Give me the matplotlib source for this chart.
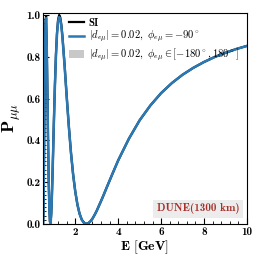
import matplotlib
matplotlib.use('Agg')
import matplotlib.pyplot as plt
import matplotlib.ticker as mticker
import numpy as np

plt.rcParams['font.family'] = 'serif'
plt.rcParams['font.serif'] = ['cmb10', 'DejaVu Serif']
plt.rcParams['mathtext.fontset'] = 'cm'
plt.rcParams['axes.unicode_minus'] = False

# energies [GeV] and survival probabilities
energy = [0.50, 0.52, 0.55, 0.58, 0.61, 0.64, 0.67, 0.70, 0.73, 0.76,
          0.79, 0.82, 0.85, 0.88, 0.91, 0.94, 0.97, 1.00, 1.05, 1.10,
          1.15, 1.20, 1.25, 1.30, 1.35, 1.40, 1.50, 1.60, 1.70, 1.80,
          1.90, 2.00, 2.10, 2.20, 2.30, 2.40, 2.50, 2.60, 2.70, 2.80,
          2.90, 3.00, 3.25, 3.50, 3.75, 4.00, 4.50, 5.00, 5.50, 6.00,
          6.50, 7.00, 7.50, 8.00, 8.50, 9.00, 9.50, 10.0]
p_si = [0.002, 0.065, 0.387, 0.747, 0.963, 0.995, 0.857, 0.643, 0.413, 0.217,
        0.081, 0.011, 0.004, 0.049, 0.132, 0.238, 0.357, 0.477, 0.661, 0.811,
        0.916, 0.978, 1.000, 0.989, 0.954, 0.901, 0.764, 0.612, 0.468, 0.341,
        0.237, 0.155, 0.093, 0.049, 0.021, 0.006, 0.001, 0.003, 0.012, 0.025,
        0.043, 0.063, 0.121, 0.183, 0.244, 0.304, 0.408, 0.496, 0.567, 0.626,
        0.674, 0.714, 0.747, 0.775, 0.799, 0.819, 0.837, 0.852]
p_nsi = [0.002, 0.064, 0.384, 0.740, 0.955, 0.985, 0.850, 0.638, 0.410, 0.216,
         0.081, 0.011, 0.004, 0.049, 0.131, 0.236, 0.354, 0.474, 0.657, 0.806,
         0.910, 0.970, 0.990, 0.981, 0.947, 0.896, 0.760, 0.609, 0.466, 0.340,
         0.236, 0.155, 0.093, 0.049, 0.021, 0.006, 0.001, 0.003, 0.012, 0.025,
         0.043, 0.063, 0.121, 0.183, 0.244, 0.304, 0.408, 0.496, 0.567, 0.626,
         0.674, 0.714, 0.747, 0.775, 0.799, 0.819, 0.837, 0.852]
band_width = [0.03, 0.03, 0.03, 0.03, 0.03, 0.02, 0.02, 0.02, 0.02, 0.01,
              0.01, 0.01, 0.01, 0.01, 0.01, 0.01, 0.01, 0.01, 0.005, 0.005,
              0.005, 0.005, 0.005, 0.005, 0.005, 0.005, 0.0, 0.0, 0.0, 0.0,
              0.0, 0.0, 0.0, 0.0, 0.0, 0.0, 0.0, 0.0, 0.0, 0.0,
              0.0, 0.0, 0.0, 0.0, 0.0, 0.0, 0.0, 0.0, 0.0, 0.0,
              0.0, 0.0, 0.0, 0.0, 0.0, 0.0, 0.0, 0.0]

E = np.array(energy)
nsi = np.array(p_nsi)
w = np.array(band_width)

fig = plt.figure(figsize=(2.58, 2.58), dpi=100)
ax = fig.add_axes([0.167, 0.132, 0.79, 0.818])

ax.fill_between(E, np.clip(nsi - w, 0, 1), np.clip(nsi + w, 0, 1),
                color='#c8c8c8', lw=0,
                label=r'$|d_{e\mu}| = 0.02,\ \phi_{e\mu} \in [-180^\circ, 180^\circ]$')
ax.plot(E, p_si, color='black', lw=1.6, label='SI')
ax.plot(E, nsi, color='#2a78b4', lw=1.8,
        label=r'$|d_{e\mu}| = 0.02,\ \phi_{e\mu} = -90^\circ$')

ax.set_xlim(0.5, 10)
ax.set_ylim(0, 1.01)
ax.xaxis.set_major_locator(mticker.MultipleLocator(2))
ax.xaxis.set_minor_locator(mticker.MultipleLocator(0.4))
ax.yaxis.set_major_locator(mticker.MultipleLocator(0.2))
ax.yaxis.set_minor_locator(mticker.MultipleLocator(0.02))
ax.xaxis.set_major_formatter(mticker.FormatStrFormatter('%d'))
ax.yaxis.set_major_formatter(mticker.FormatStrFormatter('%.1f'))
ax.tick_params(which='both', direction='in', top=False, right=False,
               labelsize=8, pad=2)
ax.tick_params(which='major', length=4, width=0.8)
ax.tick_params(which='minor', length=2, width=0.6)

ax.set_xlabel(r'$\mathbf{E\ [GeV]}$', fontsize=10, labelpad=1)
ax.set_ylabel(r'$\mathbf{P}_{\mu\mu}$', fontsize=13, labelpad=2)

h, l = ax.get_legend_handles_labels()
order = [1, 2, 0]
ax.legend([h[i] for i in order], [l[i] for i in order], loc='upper left',
          bbox_to_anchor=(0.09, 1.01), frameon=False, fontsize=7.6,
          handlelength=1.4, handletextpad=0.5, labelspacing=0.08,
          borderaxespad=0.3)

ax.text(9.65, 0.072, 'DUNE(1300 km)', color='#a8302c', fontsize=8,
        ha='right', va='center',
        bbox=dict(facecolor='#ececec', edgecolor='none', pad=2.5))

fig.savefig('out.png', dpi=100)
